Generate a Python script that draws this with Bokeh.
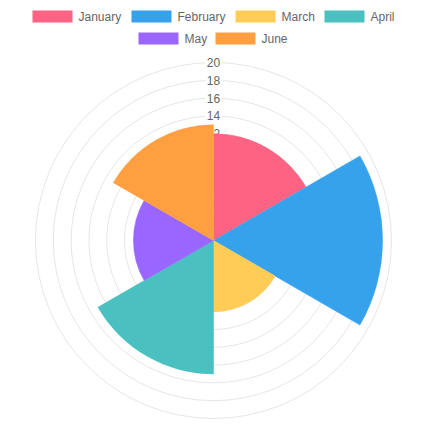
import numpy as np
from bokeh.plotting import figure
from bokeh.models import Range1d, ColumnDataSource
from bokeh.core.properties import value
from bokeh.embed import file_html
from bokeh.resources import INLINE

# ---- data ----
months = ["January", "February", "March", "April", "May", "June"]
values = [12, 19, 8, 15, 9, 13]
colors = ["#ff6384", "#36a2eb", "#ffcd56", "#4bc0c0", "#9966ff", "#ff9f40"]
tick_values = [2, 4, 6, 8, 10, 12, 14, 16, 18, 20]
tick_labels = [str(t) for t in tick_values]

# ---- layout constants (screen px) ----
CX, CY, K = 213.0, 240.0, 8.9
LEFT, TOP, W, H = 0, 0, 419, 419

def dx(sx):
    return (sx - CX) / K

def dy(sy):
    return (CY - sy) / K

p = figure(width=W, height=H, output_backend="svg", toolbar_location=None,
           x_axis_type=None, y_axis_type=None,
           x_range=Range1d(dx(LEFT), dx(LEFT + W)),
           y_range=Range1d(dy(TOP + H), dy(TOP)),
           min_border=0, outline_line_color=None)
p.grid.visible = False
p.background_fill_color = "white"

# grid circles
p.arc(x=0, y=0, radius=tick_values, start_angle=0, end_angle=2 * np.pi,
      line_color="black", line_alpha=0.1, line_width=1)

# tick labels with backdrop
p.text(x=[0] * len(tick_values), y=tick_values, text=tick_labels,
       text_font=value("Liberation Sans"), text_font_size="12px",
       text_color="#666666", text_align="center", text_baseline="middle",
       background_fill_color="white", background_fill_alpha=0.75, padding=2)

# wedges (clockwise from top)
n = len(values)
step = 2 * np.pi / n
starts = [np.pi / 2 - step * (i + 1) for i in range(n)]
ends = [np.pi / 2 - step * i for i in range(n)]
src = ColumnDataSource(dict(r=values, s=starts, e=ends, c=colors))
p.wedge(x=0, y=0, radius="r", start_angle="s", end_angle="e",
        fill_color="c", line_color="c", line_width=0.5, source=src)

# legend (Chart.js style, two centred rows)
box_left = [32, 131, 235, 324, 138, 215]
row_y = [16, 16, 16, 16, 38, 38]
bx = [dx(b + 20) for b in box_left]
by = [dy(y) for y in row_y]
p.rect(x=bx, y=by, width=40 / K, height=12 / K, fill_color=colors, line_color=None)
tx = [dx(b + 46) for b in box_left]
p.text(x=tx, y=by, text=months, text_font=value("Liberation Sans"),
       text_font_size="12px", text_color="#666666", text_align="left",
       text_baseline="middle")

open("out.html", "w").write(file_html(p, INLINE))
